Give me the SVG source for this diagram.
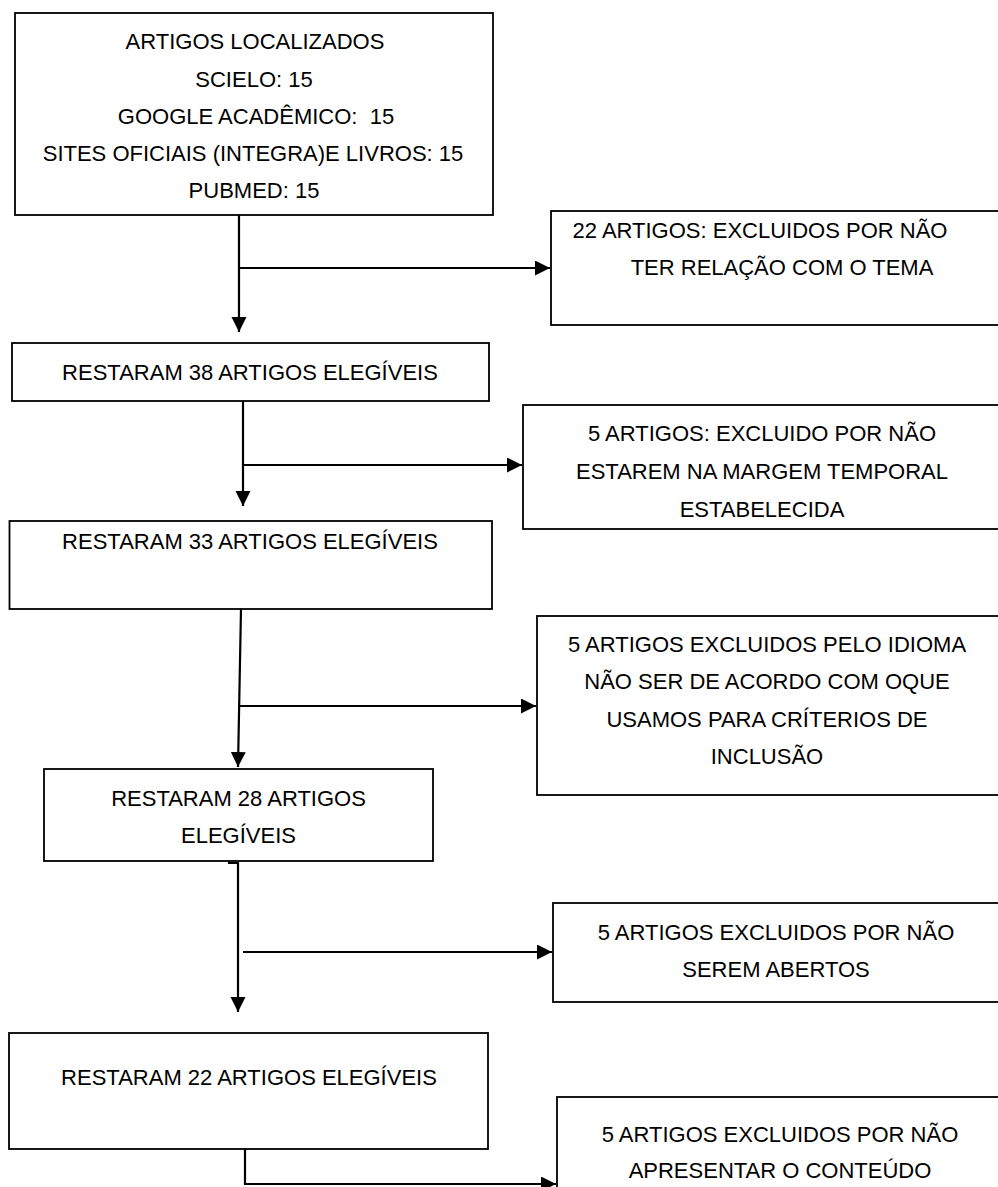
<svg xmlns="http://www.w3.org/2000/svg" width="998" height="1187" viewBox="0 0 998 1187">
<style>
.box{fill:#fff;stroke:#000;stroke-width:1.8}
.t{font-family:"Liberation Sans",Arial,sans-serif;font-size:22px;fill:#000;text-anchor:middle}
.c{fill:none;stroke:#000;stroke-width:2.2}
</style>
<defs>
<marker id="ah" markerUnits="userSpaceOnUse" markerWidth="16" markerHeight="16" refX="15" refY="7.5" orient="auto">
<path d="M0,0 L15,7.5 L0,15 z" fill="#000"/>
</marker>
</defs>
<rect width="998" height="1187" fill="#fff"/>
<g id="connectors">
<path class="c" d="M239,215 V332" marker-end="url(#ah)"/>
<path class="c" d="M239,268 H550" marker-end="url(#ah)"/>
<path class="c" d="M243,401 V506" marker-end="url(#ah)"/>
<path class="c" d="M243,465 H522" marker-end="url(#ah)"/>
<path class="c" d="M241,609 L238,767" marker-end="url(#ah)"/>
<path class="c" d="M240,706 H536" marker-end="url(#ah)"/>
<path class="c" d="M229,854 V863 H238 V1012" marker-end="url(#ah)"/>
<path class="c" d="M243,952 H552" marker-end="url(#ah)"/>
<path class="c" d="M245,1149 V1184 H556" marker-end="url(#ah)"/>
</g>
<g id="n1">
<rect class="box" x="15" y="13" width="478" height="202"/>
<text class="t" x="255" y="49">ARTIGOS LOCALIZADOS</text>
<text class="t" x="254" y="87">SCIELO: 15</text>
<text class="t" x="256" y="124">GOOGLE ACADÊMICO: &#160;15</text>
<text class="t" x="253" y="161">SITES OFICIAIS (INTEGRA)E LIVROS: 15</text>
<text class="t" x="254" y="198">PUBMED: 15</text>
</g>
<g id="x1">
<rect class="box" x="551" y="211" width="460" height="114"/>
<text class="t" x="760" y="238">22 ARTIGOS: EXCLUIDOS POR NÃO</text>
<text class="t" x="782" y="275">TER RELAÇÃO COM O TEMA</text>
</g>
<g id="n2">
<rect class="box" x="12" y="343" width="477" height="58"/>
<text class="t" x="250" y="380">RESTARAM 38 ARTIGOS ELEGÍVEIS</text>
</g>
<g id="x2">
<rect class="box" x="523" y="405" width="488" height="124"/>
<text class="t" x="762" y="441">5 ARTIGOS: EXCLUIDO POR NÃO</text>
<text class="t" x="762" y="479">ESTAREM NA MARGEM TEMPORAL</text>
<text class="t" x="762" y="517">ESTABELECIDA</text>
</g>
<g id="n3">
<rect class="box" x="9.5" y="521" width="482.5" height="88"/>
<text class="t" x="250" y="549">RESTARAM 33 ARTIGOS ELEGÍVEIS</text>
</g>
<g id="x3">
<rect class="box" x="537" y="616" width="474" height="179"/>
<text class="t" x="767" y="652">5 ARTIGOS EXCLUIDOS PELO IDIOMA</text>
<text class="t" x="767" y="689">NÃO SER DE ACORDO COM OQUE</text>
<text class="t" x="767" y="727">USAMOS PARA CRÍTERIOS DE</text>
<text class="t" x="767" y="764">INCLUSÃO</text>
</g>
<g id="n4">
<rect class="box" x="44" y="769" width="389" height="92"/>
<text class="t" x="238.5" y="806">RESTARAM 28 ARTIGOS</text>
<text class="t" x="238.5" y="843">ELEGÍVEIS</text>
</g>
<g id="x4">
<rect class="box" x="553" y="903" width="458" height="99"/>
<text class="t" x="776" y="940">5 ARTIGOS EXCLUIDOS POR NÃO</text>
<text class="t" x="776" y="977">SEREM ABERTOS</text>
</g>
<g id="n5">
<rect class="box" x="9" y="1033" width="479" height="116"/>
<text class="t" x="249" y="1085">RESTARAM 22 ARTIGOS ELEGÍVEIS</text>
</g>
<g id="x5">
<rect class="box" x="557" y="1097" width="454" height="110"/>
<text class="t" x="780" y="1142">5 ARTIGOS EXCLUIDOS POR NÃO</text>
<text class="t" x="780" y="1178">APRESENTAR O CONTEÚDO</text>
</g>
</svg>
